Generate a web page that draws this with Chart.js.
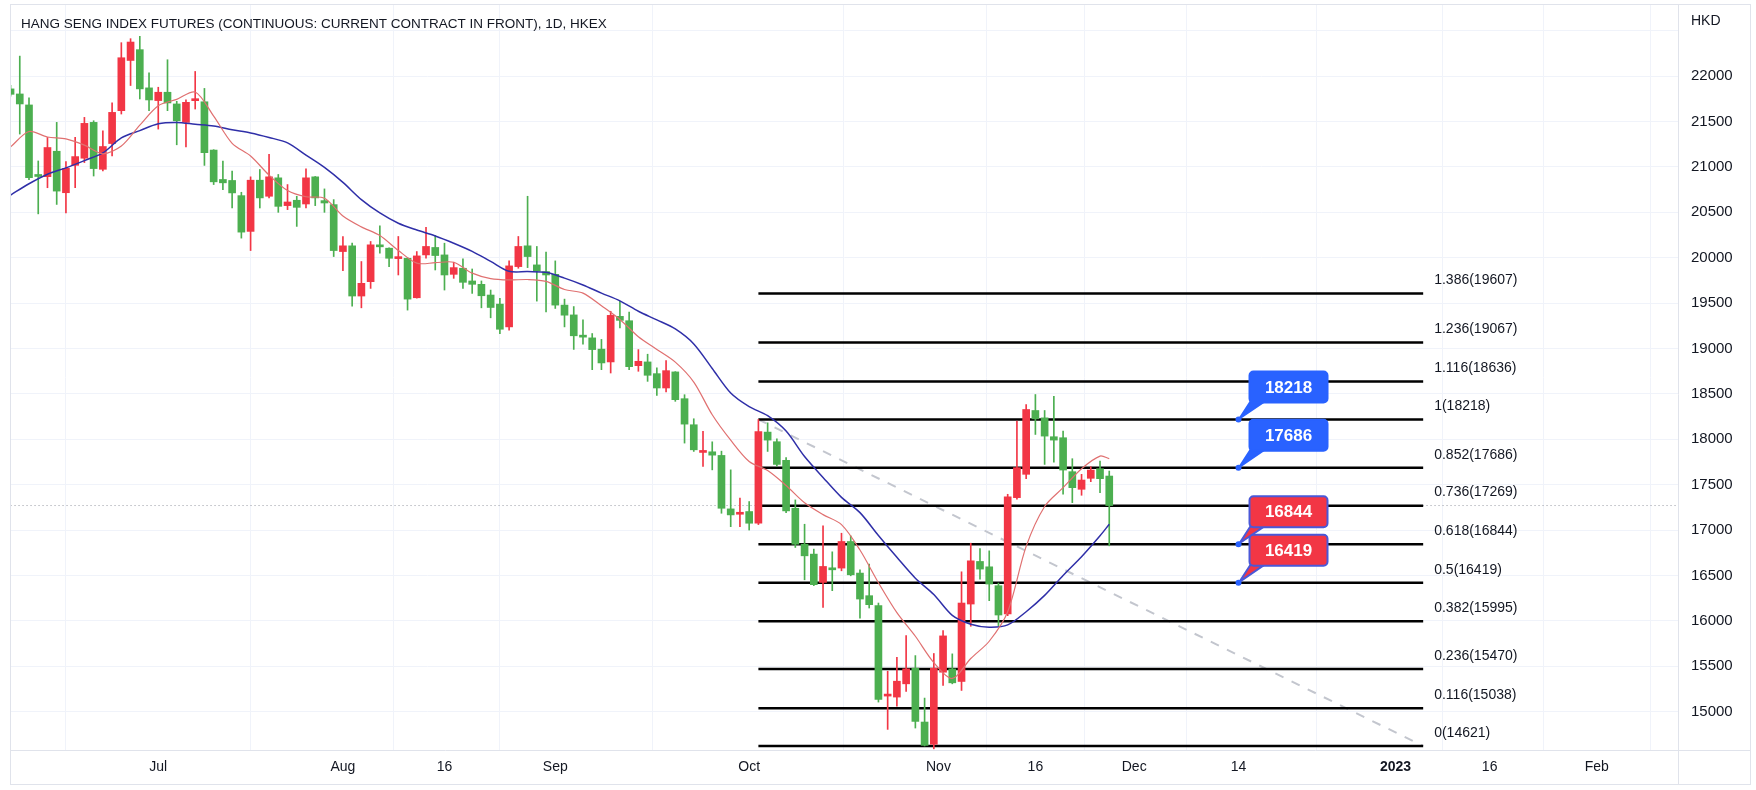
<!DOCTYPE html>
<html>
<head>
<meta charset="utf-8">
<title>Hang Seng Index Futures 1D</title>
<script src="https://cdn.jsdelivr.net/npm/chart.js"></script>
<style>
  html, body { margin: 0; padding: 0; background: #fff; }
  #wrap { width: 1756px; height: 790px; }
</style>
</head>
<body>
<div id="wrap"><canvas id="chart" width="1756" height="790"></canvas></div>
<script>
// daily candles, bar index 0 = 9 Jun 2022 ... 119 = 28 Nov 2022
const opens = [21860,21804,21683,20905,20893,21173,20716,21018,21096,21491,
  20974,21258,21620,22173,22292,21871,21731,21823,21694,21491,
  21730,21718,21186,20862,20851,20684,20290,20854,20677,20880,
  20574,20633,20592,20891,20629,20585,20068,20131,19578,19736,
  20139,20105,19990,19994,19559,20031,20113,20031,19817,19884,
  19744,19707,19589,19489,19238,19902,20131,19921,19847,19817,
  19478,19370,19140,19117,18993,18852,19354,19306,18811,18852,
  18723,18565,18742,18447,18160,17855,17862,17822,17233,17174,
  17204,17075,18079,17973,17768,17240,16844,16735,16423,16577,
  16581,16874,16526,16277,16167,15171,15160,15306,15478,14885,
  14640,15434,15471,15332,16185,16654,16595,16387,16075,17357,
  17614,18317,18236,18028,18017,17643,17449,17570,17676,17595];
const highs = [21900,22221,21760,21066,21325,21491,21059,21325,21546,21509,
  21399,21705,22369,22413,22439,22037,21878,22181,21723,21738,
  22052,21865,21190,21065,20954,20721,20891,20972,21138,20917,
  20806,20677,20980,20895,20758,20640,20234,20161,19958,20179,
  20352,20110,20234,20000,20068,20334,20245,20160,19950,19987,
  19876,19744,19644,19552,19965,20234,20677,20124,20061,19965,
  19544,19462,19317,19165,19100,19410,19520,19402,18988,18937,
  18786,18867,18745,18491,18226,18087,17972,17869,17663,17351,
  17314,18218,18181,18006,17797,17332,17064,16790,17046,16760,
  16965,16936,16562,16625,16196,15445,15599,15837,15617,15149,
  15640,15892,15636,16540,16855,16797,16771,16416,17394,18200,
  18383,18493,18317,18474,18090,17786,17614,17698,17760,17650];
const lows = [21780,21362,20860,20483,20771,20587,20494,20771,21048,20900,
  20956,21122,21583,21897,21749,21620,21417,21620,21244,21221,
  21638,21017,20806,20751,20548,20216,20079,20548,20660,20500,
  20530,20345,20548,20574,20500,20013,19858,19467,19448,19662,
  20050,19902,19810,19423,19555,19994,19865,19644,19773,19662,
  19607,19448,19338,19164,19201,19884,19891,19522,19404,19441,
  19238,18990,19048,18767,18767,18730,19227,18767,18749,18638,
  18484,18521,18418,17958,17866,17700,17663,17185,17037,17037,
  17000,17060,17866,17705,17192,16808,16452,16387,16148,16332,
  16551,16496,16028,16141,15105,14804,15061,15222,14819,14621,
  14590,15288,15306,15233,15940,16460,16222,15947,16057,17339,
  17566,18053,17723,17749,17394,17302,17383,17533,17412,16826];
const closes = [21800,21694,20882,20895,21214,20734,20985,21114,21480,20982,
  21225,21601,22203,22376,21860,21738,21823,21705,21509,21712,
  21745,21157,20836,20825,20714,20282,20854,20659,20891,20566,
  20614,20555,20880,20659,20603,20079,20131,19578,19718,20142,
  20120,19994,20000,19544,20020,20124,20024,19810,19891,19729,
  19707,19581,19452,19212,19910,20124,20013,19854,19810,19478,
  19367,19140,19125,18988,18841,19365,19310,18800,18859,18705,
  18565,18756,18436,18167,17884,17866,17825,17240,17167,17196,
  17075,18085,17991,17723,17211,16844,16716,16398,16599,16562,
  16874,16507,16240,16178,15134,15185,15335,15471,14892,14628,
  15478,15834,15317,16196,16661,16570,16405,16064,17365,17687,
  18328,18225,18035,17991,17661,17467,17551,17661,17566,17270];

// moving averages (every second bar)
const maIdx = [0,2,4,6,8,10,12,14,16,18,20,22,24,26,28,30,32,34,36,38,40,42,44,46,48,50,52,54,56,58,
  60,62,64,66,68,70,72,74,76,78,80,82,84,86,88,90,92,94,96,98,100,102,104,106,108,110,112,114,116,118,119];
const maFast = [21220,21390,21330,21310,21240,21145,21230,21460,21675,21745,21825,21560,21260,21120,20910,
  20740,20672,20655,20460,20340,20245,20080,19940,19945,19950,19830,19770,19755,19760,19740,
  19650,19610,19470,19320,19130,18990,18850,18630,18270,17990,17755,17655,17490,17300,17170,
  17060,16780,16420,16090,15830,15540,15365,15585,15775,16100,16820,17260,17467,17676,17815,17786];
const maSlow = [20690,20815,20920,20990,21070,21155,21320,21400,21475,21490,21470,21450,21410,21375,21325,
  21265,21130,20995,20830,20640,20493,20380,20305,20240,20160,20070,19960,19850,19847,19839,
  19775,19700,19610,19525,19410,19315,19215,19050,18780,18510,18360,18260,18090,17810,17580,
  17360,17192,16940,16700,16470,16290,16060,15963,15930,15955,16100,16280,16500,16705,16936,17064];

// time axis
const tickPos = [16, 36, 47, 59, 80, 100.5, 111, 121.7, 133, 150, 160.2, 171.8];
const tickLabels = ['Jul', 'Aug', '16', 'Sep', 'Oct', 'Nov', '16', 'Dec', '14', '2023', '16', 'Feb'];
const priceTicks = [15000,15500,16000,16500,17000,17500,18000,18500,19000,19500,20000,20500,21000,21500,22000,22500];

// fib retracement, anchored at the 18218 high and 14621
const fibFrom = [81, 18218];
const fibTo = [153, 14621];
const fibRatios = ['1.386','1.236','1.116','1','0.852','0.736','0.618','0.5','0.382','0.236','0.116','0'];
const fibPrices = [19607,19067,18636,18218,17686,17269,16844,16419,15995,15470,15038,14621];

// price callouts
const calloutIdx = 133;
const calloutPrices = [18218, 17686, 16844, 16419];
const calloutColors = ['#2962ff', '#2962ff', '#f23645', '#f23645'];

const UP = '#f23645', DOWN = '#4caf50';
const FONT = '"Liberation Sans", Arial, sans-serif';

const candleColors = closes.map((c, i) => c >= opens[i] ? UP : DOWN);
const wickData = closes.map((c, i) => ({ x: i, y: [lows[i], highs[i]] }));
const bodyData = closes.map((c, i) => ({ x: i, y: [Math.min(opens[i], c), Math.max(opens[i], c)] }));

const fibLineData = [];
fibPrices.forEach(p => {
  fibLineData.push({ x: fibFrom[0], y: p }, { x: fibTo[0], y: p }, { x: fibTo[0], y: null });
});

const overlay = {
  id: 'overlay',
  afterDatasetsDraw(chart) {
    const { ctx, scales: { x, y } } = chart;
    ctx.save();
    // fib labels
    ctx.font = '14px ' + FONT;
    ctx.fillStyle = '#131722';
    ctx.textBaseline = 'middle';
    ctx.textAlign = 'left';
    const lx = x.getPixelForValue(fibTo[0]) + 11;
    fibPrices.forEach((p, i) => {
      ctx.fillText(fibRatios[i] + '(' + p + ')', lx, y.getPixelForValue(p) - 13);
    });
    // callouts
    const px = x.getPixelForValue(calloutIdx);
    calloutPrices.forEach((p, i) => {
      const py = y.getPixelForValue(p);
      const col = calloutColors[i];
      const edge = col === UP ? '#4a58d8' : col;
      const bx = px + 11, by = py - 48, bw = 78, bh = 31;
      ctx.beginPath();
      ctx.moveTo(px + 1, py - 1);
      ctx.lineTo(bx + 1, by + bh - 1);
      ctx.lineTo(bx + 15, by + bh - 1);
      ctx.closePath();
      ctx.fillStyle = col;
      ctx.fill();
      ctx.strokeStyle = edge;
      ctx.lineWidth = 2;
      ctx.stroke();
      ctx.beginPath();
      ctx.roundRect(bx, by, bw, bh, 4);
      ctx.fill();
      ctx.stroke();
      ctx.fillStyle = '#fff';
      ctx.font = 'bold 17px ' + FONT;
      ctx.textAlign = 'center';
      ctx.fillText(String(p), bx + bw / 2, by + bh / 2 + 1);
      ctx.beginPath();
      ctx.arc(px, py, 3, 0, Math.PI * 2);
      ctx.fillStyle = '#2962ff';
      ctx.fill();
    });
    ctx.restore();
  },
  afterDraw(chart) {
    const { ctx, chartArea: a } = chart;
    ctx.save();
    ctx.strokeStyle = '#e0e3eb';
    ctx.lineWidth = 1;
    ctx.strokeRect(10.5, 4.5, 1740, 780);
    ctx.beginPath();
    ctx.moveTo(a.right + 0.5, 4.5); ctx.lineTo(a.right + 0.5, 784.5);
    ctx.moveTo(10.5, a.bottom + 0.5); ctx.lineTo(1750.5, a.bottom + 0.5);
    ctx.stroke();
    ctx.fillStyle = '#131722';
    ctx.font = '13.5px ' + FONT;
    ctx.textBaseline = 'middle';
    ctx.fillText('HANG SENG INDEX FUTURES (CONTINUOUS: CURRENT CONTRACT IN FRONT), 1D, HKEX', 21, 24);
    ctx.fillStyle = '#fff';
    ctx.fillRect(a.right + 1, 10, 70, 24);
    ctx.fillStyle = '#131722';
    ctx.font = '14px ' + FONT;
    ctx.fillText('HKD', a.right + 13, 21);
    ctx.restore();
  }
};

new Chart(document.getElementById('chart'), {
  type: 'bar',
  data: {
    datasets: [
      { type: 'line', data: maIdx.map((k, i) => ({ x: k, y: maFast[i] })), borderColor: '#e07070',
        borderWidth: 1.2, pointRadius: 0, tension: 0.3, order: 0 },
      { type: 'line', data: maIdx.map((k, i) => ({ x: k, y: maSlow[i] })), borderColor: '#2f2fa8',
        borderWidth: 1.5, pointRadius: 0, tension: 0.3, order: 0 },
      { data: bodyData, backgroundColor: candleColors, barThickness: 7, minBarLength: 2,
        grouped: false, order: 1 },
      { data: wickData, backgroundColor: candleColors, barThickness: 1, grouped: false, order: 2 },
      { type: 'line', data: fibLineData, borderColor: '#000', borderWidth: 2.5, pointRadius: 0,
        spanGaps: false, order: 3 },
      { type: 'line', data: [{ x: fibFrom[0], y: fibFrom[1] }, { x: fibTo[0], y: fibTo[1] }],
        borderColor: '#c3c6ce', borderWidth: 2, borderDash: [9, 9], pointRadius: 0, order: 4 },
      { type: 'line', data: [{ x: 0, y: closes[closes.length - 1] }, { x: 181, y: closes[closes.length - 1] }],
        borderColor: '#9598a1', borderWidth: 1, borderDash: [1, 3], pointRadius: 0, order: 5 }
    ]
  },
  options: {
    responsive: false,
    animation: false,
    devicePixelRatio: 1,
    layout: { padding: { left: 11, top: 5, right: 6, bottom: 5 } },
    plugins: { legend: { display: false }, tooltip: { enabled: false } },
    scales: {
      x: {
        type: 'linear', min: 0.05, max: 180.6, offset: false,
        afterBuildTicks: axis => { axis.ticks = tickPos.map(v => ({ value: v })); },
        afterFit: axis => { axis.height = 35; axis.paddingLeft = 0; axis.paddingRight = 0; },
        grid: { color: '#f0f3fa', drawTicks: false },
        border: { display: false },
        ticks: {
          autoSkip: false, maxRotation: 0, padding: 9, color: '#131722',
          callback: (v, i) => tickLabels[i],
          font: ctx => ({ family: FONT, size: 14, weight: tickLabels[ctx.index] === '2023' ? 'bold' : 'normal' })
        }
      },
      y: {
        position: 'right', min: 14577, max: 22784,
        afterBuildTicks: axis => { axis.ticks = priceTicks.map(v => ({ value: v })); },
        afterFit: axis => { axis.width = 72; axis.paddingTop = 0; axis.paddingBottom = 0; },
        grid: { color: '#f0f3fa', drawTicks: false },
        border: { display: false },
        ticks: {
          padding: 13, color: '#131722', crossAlign: 'near',
          callback: v => v === 22500 ? '' : String(v),
          font: { family: FONT, size: 15 }
        }
      }
    }
  },
  plugins: [overlay]
});
</script>
</body>
</html>
